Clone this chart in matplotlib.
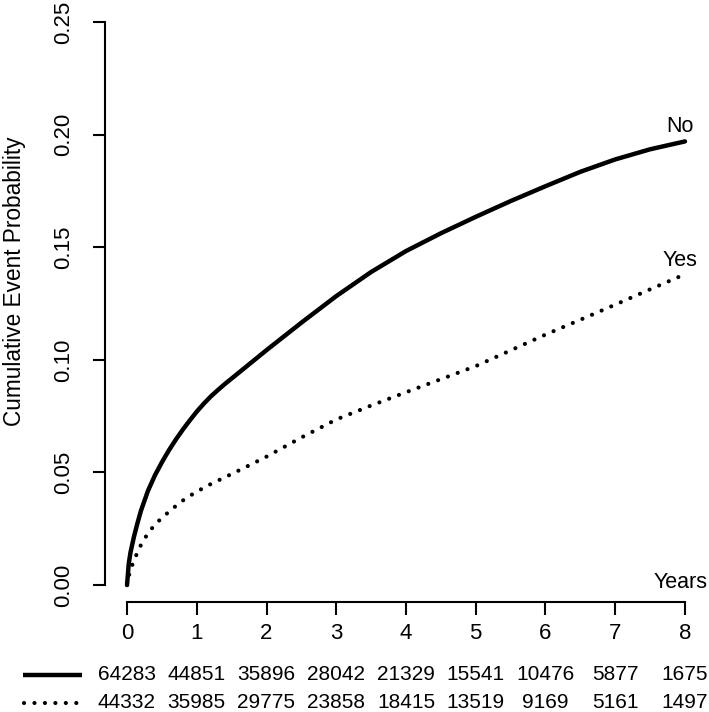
import matplotlib
matplotlib.use("Agg")
import matplotlib.pyplot as plt
from matplotlib.lines import Line2D

plt.rcParams['font.family'] = ['Liberation Sans', 'DejaVu Sans']

# Data
years = [0, 0.025, 0.05, 0.1, 0.15, 0.2, 0.3, 0.4, 0.5, 0.6, 0.7, 0.8, 0.9,
         1.0, 1.1, 1.2, 1.3, 1.4, 1.5, 1.75, 2.0, 2.5, 3.0, 3.5, 4.0, 4.5,
         5.0, 5.5, 6.0, 6.5, 7.0, 7.5, 8.0]
cum_no = [0.0, 0.0095, 0.0145, 0.0215, 0.0275, 0.0330, 0.0418, 0.0487, 0.0545,
          0.0598, 0.0646, 0.0690, 0.0731, 0.0770, 0.0805, 0.0837, 0.0865,
          0.0892, 0.0917, 0.0980, 0.1043, 0.1165, 0.1283, 0.1390, 0.1483,
          0.1562, 0.1635, 0.1705, 0.1771, 0.1835, 0.1890, 0.1935, 0.1970]
cum_yes = [0.0, 0.0040, 0.0067, 0.0110, 0.0145, 0.0178, 0.0230, 0.0268, 0.0298,
           0.0325, 0.0351, 0.0375, 0.0396, 0.0414, 0.0432, 0.0448, 0.0463,
           0.0478, 0.0493, 0.0531, 0.0570, 0.0655, 0.0735, 0.0797, 0.0856,
           0.0914, 0.0972, 0.1042, 0.1112, 0.1178, 0.1245, 0.1313, 0.1380]
time_ticks = [0, 1, 2, 3, 4, 5, 6, 7, 8]
risk_no = [64283, 44851, 35896, 28042, 21329, 15541, 10476, 5877, 1675]
risk_yes = [44332, 35985, 29775, 23858, 18415, 13519, 9169, 5161, 1497]
y_ticks = [0.00, 0.05, 0.10, 0.15, 0.20, 0.25]

W, H = 709, 712
fig = plt.figure(figsize=(W / 100, H / 100), dpi=100)
ax = fig.add_axes([104.7 / W, (H - 602) / H, 602.6 / W, 602 / H])
ax.set_xlim(-0.32, 8.32)
ax.set_ylim(-0.00755, 0.2598)

dotted = (0, (0.01, 2.5))
ax.plot(years, cum_no, color='black', lw=3.2, solid_capstyle='round',
        solid_joinstyle='round')
ax.plot(years, cum_yes, color='black', lw=3.0, linestyle=dotted,
        dash_capstyle='round')

ax.text(7.93, 0.2034, 'No', ha='center', va='center', fontsize=15.5)
ax.text(7.93, 0.1443, 'Yes', ha='center', va='center', fontsize=15.5)
ax.text(7.93, 0.0013, 'Years', ha='center', va='center', fontsize=15.5)

for s in ['top', 'right']:
    ax.spines[s].set_visible(False)
ax.spines['left'].set_bounds(0, 0.25)
ax.spines['bottom'].set_bounds(0, 8)
ax.spines['left'].set_linewidth(1.5)
ax.spines['bottom'].set_linewidth(1.5)

ax.set_xticks(time_ticks)
ax.set_xticklabels([str(t) for t in time_ticks], fontsize=16)
ax.set_yticks(y_ticks)
ax.set_yticklabels([f"{v:.2f}" for v in y_ticks], fontsize=16, rotation=90,
                   va='center')
ax.tick_params(axis='both', direction='out', length=9, width=1.5)
ax.tick_params(axis='x', pad=6)
ax.tick_params(axis='y', pad=13)

fig.text(15 / W, 1 - 281 / H, 'Cumulative Event Probability', rotation=90,
         ha='center', va='center', fontsize=16.3)

# Risk table (numbers at risk under each time tick)
def xpix(t):
    return 127 + 69.75 * t

for t, n in zip(time_ticks, risk_no):
    fig.text(xpix(t) / W, 1 - 675 / H, f"{n}", ha='center', va='center', fontsize=15)
for t, n in zip(time_ticks, risk_yes):
    fig.text(xpix(t) / W, 1 - 703 / H, f"{n}", ha='center', va='center', fontsize=15)

fig.add_artist(Line2D([23 / W, 82 / W], [1 - 675 / H, 1 - 675 / H],
                      color='black', lw=3.2, solid_capstyle='butt'))
fig.add_artist(Line2D([24 / W, 82 / W], [1 - 703 / H, 1 - 703 / H],
                      color='black', lw=3.0, linestyle=dotted,
                      dash_capstyle='round'))

fig.savefig('out.png', dpi=100)
